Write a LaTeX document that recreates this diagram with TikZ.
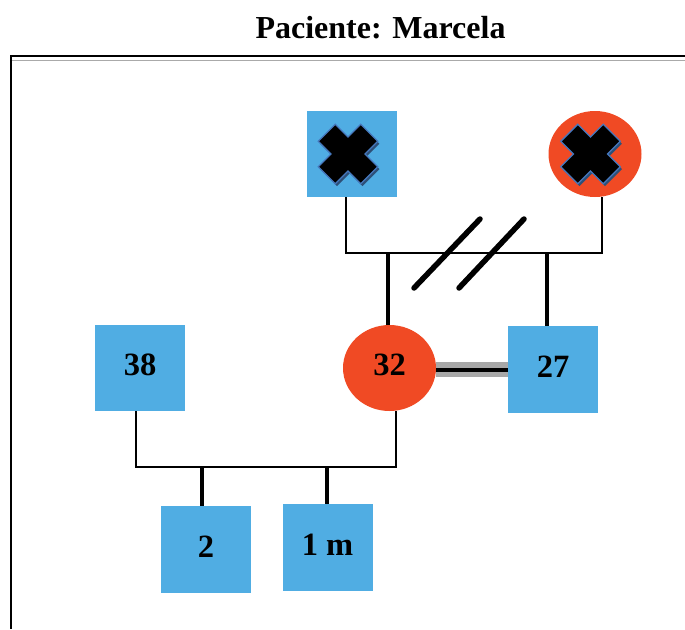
\documentclass[tikz,border=0pt]{standalone}
\usepackage{fontspec}
\setmainfont{Liberation Serif}
\usetikzlibrary{shapes.geometric}

\definecolor{maleblue}{RGB}{80,173,227}
\definecolor{femred}{RGB}{240,74,36}
\definecolor{xedge}{RGB}{70,120,190}
\definecolor{xshade}{RGB}{45,80,120}
\definecolor{rulegray}{RGB}{170,170,170}
\definecolor{bondgray}{RGB}{168,168,168}

\tikzset{
  agetext/.style={inner sep=0pt, text depth=6pt, font=\bfseries\fontsize{32.5}{38}\selectfont},
  male/.style={rectangle, fill=maleblue, minimum width=90pt, minimum height=86.5pt, agetext},
  female/.style={ellipse, fill=femred, minimum width=93pt, minimum height=86pt, agetext},
  tie/.style={line width=1.7pt},
  descent/.style={line width=3.8pt},
  slash/.style={line width=5.5pt, line cap=round},
  deadmark/.pic={
    \fill[xshade] (-0.5,3) [rotate=45] ++(0,0)
      +(12,12) -- +(30,12) -- +(30,-12) -- +(12,-12) -- +(12,-30) -- +(-12,-30)
      -- +(-12,-12) -- +(-30,-12) -- +(-30,12) -- +(-12,12) -- +(-12,30) -- +(12,30) -- cycle;
    \filldraw[fill=black, draw=xedge, line width=1.3pt] (0,0) [rotate=45]
      +(12,12) -- +(30,12) -- +(30,-12) -- +(12,-12) -- +(12,-30) -- +(-12,-30)
      -- +(-12,-12) -- +(-30,-12) -- +(-30,12) -- +(-12,12) -- +(-12,30) -- +(12,30) -- cycle;
  }
}

\begin{document}
\begin{tikzpicture}[x=1pt, y=-1pt]
\useasboundingbox (0,0) rectangle (685,629);

% title and frame
\node[anchor=base, font=\bfseries\fontsize{32}{38}\selectfont] (title) at (380.5,38) {Paciente: Marcela};
\draw[line width=2pt] (685,55.7) -- (11,55.7) -- (11,629);
\draw[rulegray, line width=1.6pt] (12,60.5) -- (685,60.5);

% family members
\node[male]   (fa) at (352,154) {};
\node[female] (mo) at (595,154) {};
\node[male]   (br) at (140,368) {38};
\node[female] (pat) at (389.5,368) {32};
\node[male]   (sp) at (553,369.5) {27};
\node[male]   (k2) at (206,549.5) {2};
\node[male]   (k1) at (327.5,547.5) {1 m};

\pic at ([xshift=-4pt]fa.center) {deadmark};
\pic at ([xshift=-4.5pt]mo.center) {deadmark};

% parents' union (separated)
\coordinate (pu1) at (346,253);
\coordinate (pu2) at (602,253);
\draw[tie] ([xshift=-6pt]fa.south) -- (pu1) -- (pu2) -- ([xshift=7pt]mo.south);
\coordinate (pd1) at (388,253);
\coordinate (pd2) at (547,253);
\draw[descent] (pd1) -- (pd1 |- pat.north);
\draw[descent] (pd2) -- (pd2 |- sp.north);
\draw[slash] (414,288) -- (480,219);
\draw[slash] (459,288) -- (524,219);

% patient and partner bond
\coordinate (bond) at (0,369.5);
\draw[bondgray, line width=15pt] (pat.east |- bond) -- (sp.west |- bond);
\draw[black, line width=4pt] (pat.east |- bond) -- (sp.west |- bond);

% children's union
\coordinate (cu1) at (136,467);
\coordinate (cu2) at (396,467);
\draw[tie] ([xshift=-4pt]br.south) -- (cu1) -- (cu2) -- ([xshift=6.5pt]pat.south);
\coordinate (cd1) at (202,467);
\coordinate (cd2) at (327,467);
\draw[descent] (cd1) -- (cd1 |- k2.north);
\draw[descent] (cd2) -- (cd2 |- k1.north);
\end{tikzpicture}
\end{document}
